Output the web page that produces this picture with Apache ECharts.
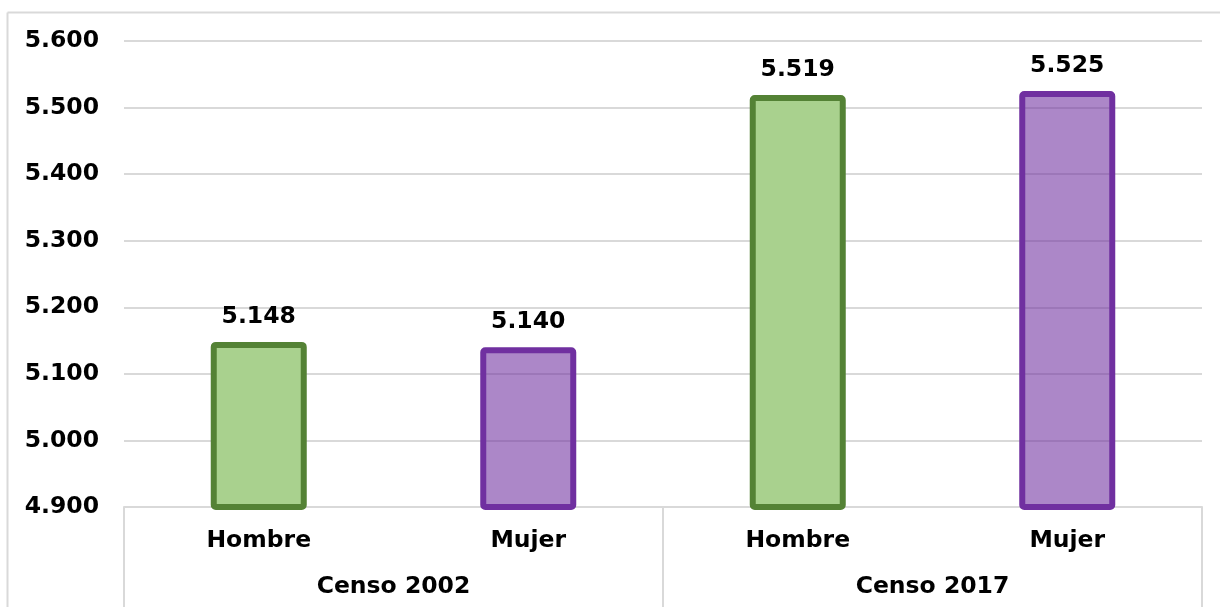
<!DOCTYPE html>
<html>
<head>
<meta charset="utf-8">
<script src="https://cdn.jsdelivr.net/npm/echarts@6/dist/echarts.min.js"></script>
<style>
html,body{margin:0;padding:0;background:#fff;}
#c{width:1220px;height:607px;}
</style>
</head>
<body>
<div id="c"></div>
<script>
var categories = ['Hombre', 'Mujer', 'Hombre', 'Mujer'];
var groups = ['Censo 2002', 'Censo 2017'];
var values = [5.148, 5.140, 5.519, 5.525];
var sexes = ['H', 'M', 'H', 'M'];
var yTicks = { min: 4.9, max: 5.6, interval: 0.1 };

var styles = {
  H: { color: '#a9d18e', borderColor: '#548235' },
  M: { color: 'rgba(112,48,160,0.58)', borderColor: '#7030a0' }
};

var font = '"DejaVu Sans", Verdana, sans-serif';
var fs = 23.5;
var chart = echarts.init(document.getElementById('c'));

var barData = values.map(function (v, i) {
  var s = styles[sexes[i]];
  return {
    value: v,
    itemStyle: { color: s.color, borderColor: s.borderColor, borderWidth: 6, borderRadius: 2 }
  };
});

chart.setOption({
  animation: false,
  graphic: [
    { type: 'line', shape: { x1: 7.5, y1: 12.5, x2: 1220, y2: 12.5 }, style: { stroke: '#d9d9d9', lineWidth: 2 } },
    { type: 'line', shape: { x1: 7.5, y1: 12.5, x2: 7.5, y2: 607 }, style: { stroke: '#d9d9d9', lineWidth: 2 } }
  ],
  grid: { left: 124, right: 18, top: 41, bottom: 100 },
  xAxis: [
    {
      type: 'category',
      data: categories,
      axisLine: { show: true, lineStyle: { color: '#d9d9d9', width: 2 } },
      axisTick: { show: false },
      axisLabel: { margin: 22, fontFamily: font, fontWeight: 'bold', fontSize: fs, color: '#000' }
    },
    {
      type: 'category',
      data: groups,
      position: 'bottom',
      axisLine: { show: false },
      axisTick: { show: true, length: 100, interval: 0, lineStyle: { color: '#d9d9d9', width: 2 } },
      axisLabel: { margin: 68, fontFamily: font, fontWeight: 'bold', fontSize: fs, color: '#000' }
    }
  ],
  yAxis: {
    type: 'value',
    min: yTicks.min,
    max: yTicks.max,
    interval: yTicks.interval,
    axisLine: { show: false },
    axisTick: { show: false },
    splitLine: { lineStyle: { color: '#d9d9d9', width: 2 } },
    axisLabel: {
      margin: 25,
      fontFamily: font, fontWeight: 'bold', fontSize: fs, color: '#000',
      formatter: function (v) { return v.toFixed(3); }
    }
  },
  series: [{
    type: 'bar',
    xAxisIndex: 0,
    data: barData,
    barWidth: 96,
    label: {
      show: true, position: 'top', distance: 13,
      fontFamily: font, fontWeight: 'bold', fontSize: fs, color: '#000',
      formatter: function (p) { return p.value.toFixed(3); }
    }
  }]
});
</script>
</body>
</html>
